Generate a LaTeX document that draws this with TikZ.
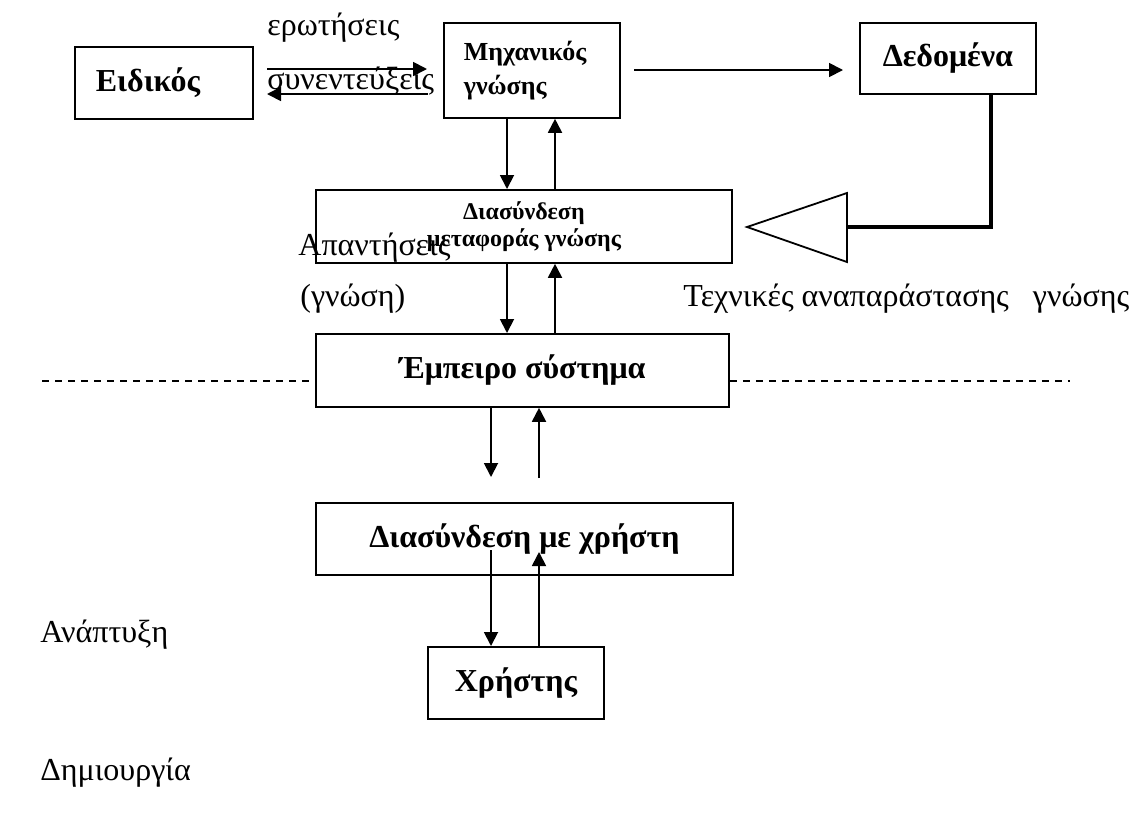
\documentclass[tikz,border=0pt]{standalone}
\usepackage{fontspec}
\setmainfont{Liberation Serif}
\usetikzlibrary{arrows.meta}

\begin{document}
\begin{tikzpicture}[x=0.5pt, y=-0.5pt, >={Triangle[length=7pt,width=7pt]},
  box/.style={draw, line width=0.9pt, anchor=north west, inner sep=0pt, font=\fontsize{16}{19}\selectfont\bfseries},
  lbl/.style={anchor=base west, inner sep=0pt, font=\fontsize{16}{19}\selectfont},
  link/.style={line width=0.9pt}]
  \useasboundingbox (0,0) rectangle (1138,815);
  % boxes
  \node[box, minimum height=36pt, text width=68pt, inner xsep=10.5pt, align=left] (expert) at (74,46) {Ειδικός};
  \node[box, minimum height=47.5pt, text width=68pt, inner xsep=10pt, align=left, font=\fontsize{13}{17}\selectfont\bfseries] (eng) at (443,22) {Μηχανικός\\γνώσης};
  \node[box, minimum width=88pt, minimum height=35.5pt] (data) at (859,22) {Δεδομένα};
  \node[box, minimum width=208pt, minimum height=36.5pt, align=center, font=\fontsize{12}{13.5}\selectfont\bfseries] (transfer) at (315,189) {Διασύνδεση\\μεταφοράς γνώσης};
  \node[box, minimum width=206.5pt, minimum height=36.5pt] (expsys) at (315,333) {Έμπειρο σύστημα};
  \node[box, minimum width=208.5pt, minimum height=36pt] (ui) at (315,502) {Διασύνδεση με χρήστη};
  \node[box, minimum width=88pt, minimum height=36pt] (user) at (427,646) {Χρήστης};
  % free ends and columns
  \coordinate (c1) at (507,0);
  \coordinate (c2) at (555,0);
  \coordinate (c3) at (491,0);
  \coordinate (c4) at (539,0);
  \coordinate (dx) at (991,0);
  \coordinate (qs) at (267,69);
  \coordinate (qe) at (427,69);
  \coordinate (as) at (428,94);
  \coordinate (ae) at (267,94);
  \coordinate (ds) at (634,70);
  \coordinate (de) at (843,70);
  \coordinate (tribase) at (847,227);
  \coordinate (gapdn) at (491,477);
  \coordinate (gapup) at (539,478);
  \coordinate (uidn) at (491,550);
  \coordinate (uiup) at (539,552);
  \coordinate (dl) at (42,381);
  \coordinate (dr) at (1070,381);
  % interview arrows
  \draw[link,->] (qs) -- (qe);
  \draw[link,->] (as) -- (ae);
  \draw[link,->] (ds) -- (de);
  % data to representation
  \draw[line width=1.6pt] (data.south -| dx) |- (tribase);
  \draw[link] (747,227) -- (847,193) -- (847,262) -- cycle;
  % vertical arrows
  \draw[link,->] (eng.south -| c1) -- (transfer.north -| c1);
  \draw[link,->] (transfer.north -| c2) -- (eng.south -| c2);
  \draw[link,->] (transfer.south -| c1) -- (expsys.north -| c1);
  \draw[link,->] (expsys.north -| c2) -- (transfer.south -| c2);
  \draw[link,->] (expsys.south -| c3) -- (gapdn);
  \draw[link,->] (gapup) -- (expsys.south -| c4);
  \draw[link,->] (uidn) -- (user.north -| c3);
  \draw[link,->] (user.north -| c4) -- (uiup);
  % dashed divider
  \draw[dash pattern=on 3.5pt off 3pt, line width=0.7pt] (dl) -- (dl -| expsys.west);
  \draw[dash pattern=on 3.5pt off 3pt, line width=0.7pt] (expsys.east |- dr) -- (dr);
  % labels
  \node[lbl] (ask) at (267,35) {ερωτήσεις};
  \node[lbl] (talk) at (267,89) {συνεντεύξεις};
  \node[lbl] (answ) at (298,255) {Απαντήσεις};
  \node[lbl] (know) at (300,306) {(γνώση)};
  \node[lbl] (tech) at (683,306) {Τεχνικές αναπαράστασης\ \ \ γνώσης};
  \node[lbl] (devel) at (40,642) {Ανάπτυξη};
  \node[lbl] (create) at (40,780) {Δημιουργία};
\end{tikzpicture}
\end{document}
